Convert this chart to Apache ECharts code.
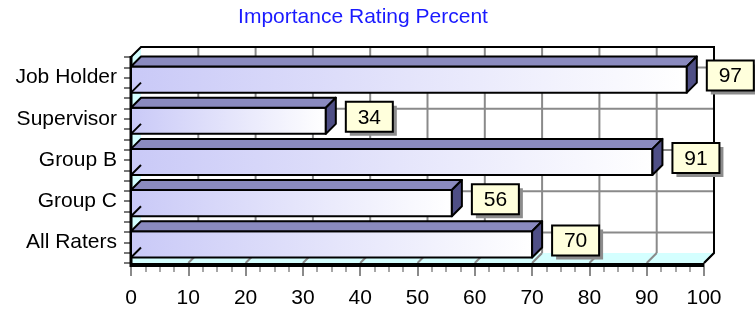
<!DOCTYPE html>
<html>
<head>
<meta charset="utf-8">
<script src="https://cdn.jsdelivr.net/npm/echarts@6/dist/echarts.min.js"></script>
<style>
  html, body { margin: 0; padding: 0; background: #fff; }
  #chart { width: 755px; height: 313px; }
</style>
</head>
<body>
<div id="chart"></div>
<script>
// data
let categories = ["Job Holder", "Supervisor", "Group B", "Group C", "All Raters"];
let ratings = [97, 34, 91, 56, 70];
let xTicks = [0, 10, 20, 30, 40, 50, 60, 70, 80, 90, 100];

const DEPTH = 10;
const FONT = "Liberation Sans, Arial, sans-serif";

let myChart = echarts.init(document.getElementById("chart"));

// walls, floor and grid lines of the fake 3d box
function renderBox (params, api) {
  let cs = params.coordSys;
  let x0 = cs.x, x1 = cs.x + cs.width, t = cs.y, b = cs.y + cs.height;
  let d = DEPTH;
  let kids = [];
  let grey = { stroke: "#8a8a8a", lineWidth: 2 };

  kids.push({ type: "rect", shape: { x: x0 + d, y: t - d, width: x1 - x0, height: b - t }, style: { fill: "#fff" } });
  kids.push({ type: "polygon", shape: { points: [[x0, t], [x0 + d, t - d], [x0 + d, b - d], [x0, b]] }, style: { fill: "#d4ffff" } });
  kids.push({ type: "polygon", shape: { points: [[x0, b], [x1, b], [x1 + d, b - d], [x0 + d, b - d]] }, style: { fill: "#d4ffff" } });

  xTicks.forEach((v) => {
    let x = api.coord([v, 0])[0];
    if (v > 0 && v < 100) {
      kids.push({ type: "line", shape: { x1: x + d, y1: t - d, x2: x + d, y2: b - d }, style: grey });
    }
    if (v > 0) {
      kids.push({ type: "line", shape: { x1: x, y1: b, x2: x + d, y2: b - d }, style: grey });
    }
  });
  categories.forEach((c, i) => {
    let y = api.coord([0, i])[1];
    kids.push({ type: "line", shape: { x1: x0 + d, y1: y - d, x2: x1 + d, y2: y - d }, style: grey });
  });

  let black = { stroke: "#000", lineWidth: 2, fill: null };
  kids.push({ type: "polyline", shape: { points: [[x0, t], [x0 + d, t - d], [x1 + d, t - d], [x1 + d, b - d], [x1, b]] }, style: black });
  kids.push({ type: "line", shape: { x1: x0, y1: t - 1, x2: x0, y2: b + 4 }, style: { stroke: "#000", lineWidth: 3 } });
  kids.push({ type: "line", shape: { x1: x0, y1: b + 2, x2: x1, y2: b + 2 }, style: { stroke: "#000", lineWidth: 4 } });

  return { type: "group", children: kids };
}

function renderBar (params, api) {
  let i = api.value(1);
  let start = api.coord([0, i]);
  let end = api.coord([api.value(0), i]);
  let band = api.size([0, 1])[1];
  let d = DEPTH;
  let x0 = start[0], x1 = end[0];
  let top = start[1] - band * 0.27;
  let bot = start[1] + band * 0.365;
  let line = { stroke: "#000", lineWidth: 2, lineJoin: "round" };

  return {
    type: "group",
    children: [
      {
        type: "rect",
        shape: { x: x0, y: top, width: x1 - x0, height: bot - top },
        style: Object.assign({
          fill: new echarts.graphic.LinearGradient(0, 0, 1, 0, [
            { offset: 0, color: "#c9c9f7" },
            { offset: 1, color: "#ffffff" }
          ])
        }, line)
      },
      {
        type: "polygon",
        shape: { points: [[x0, top], [x1, top], [x1 + d, top - d], [x0 + d, top - d]] },
        style: Object.assign({ fill: "#8a8abf" }, line)
      },
      {
        type: "polygon",
        shape: { points: [[x1, top], [x1 + d, top - d], [x1 + d, bot - d], [x1, bot]] },
        style: Object.assign({ fill: "#4f4f86" }, line)
      },
      {
        type: "line",
        shape: { x1: x0, y1: bot, x2: x0 + d, y2: bot - d },
        style: line
      }
    ]
  };
}

function renderLabel (params, api) {
  let i = api.value(1);
  let end = api.coord([api.value(0), i]);
  let x = end[0] + 20, y = end[1] - 17;
  let w = 47, h = 30;
  return {
    type: "group",
    children: [
      { type: "rect", shape: { x: x + 4, y: y + 4, width: w, height: h }, style: { fill: "#8c8c8c" } },
      { type: "rect", shape: { x: x, y: y, width: w, height: h }, style: { fill: "#ffffdc", stroke: "#000", lineWidth: 2 } },
      {
        type: "text",
        x: x + w / 2,
        y: y + h / 2 + 1,
        style: { text: String(api.value(0)), fill: "#000", font: "21px " + FONT, align: "center", verticalAlign: "middle" }
      }
    ]
  };
}

let barData = ratings.map((v, i) => [v, i]);

myChart.setOption({
  animation: false,
  title: {
    text: "Importance Rating Percent",
    left: 358,
    top: 2,
    textAlign: "center",
    textStyle: { color: "#1a1aff", fontSize: 21, fontWeight: "normal", fontFamily: FONT }
  },
  grid: {
    left: 131,
    right: 51,
    top: 57,
    bottom: 50
  },
  xAxis: {
    type: "value",
    min: 0,
    max: 100,
    interval: 10,
    axisLine: { show: false },
    axisTick: { show: true, length: 13, lineStyle: { color: "#8a8a8a", width: 2 } },
    minorTick: { show: true, splitNumber: 4, length: 9, lineStyle: { color: "#8a8a8a", width: 1.5 } },
    splitLine: { show: false },
    axisLabel: { color: "#000", fontSize: 21, fontFamily: FONT, margin: 25 }
  },
  yAxis: [
    {
      type: "category",
      data: categories,
      inverse: true,
      axisLine: { show: false },
      axisTick: { show: false },
      axisLabel: { color: "#000", fontSize: 21, fontFamily: FONT, margin: 14 }
    },
    {
      type: "value",
      min: 0,
      max: 20,
      interval: 1,
      position: "left",
      axisLine: { show: false },
      axisTick: { show: true, length: 7, lineStyle: { color: "#777", width: 2 } },
      axisLabel: { show: false },
      splitLine: { show: false }
    }
  ],
  series: [
    {
      type: "custom",
      name: "box",
      clip: false,
      z: 1,
      renderItem: renderBox,
      data: [[0, 0]],
      silent: true
    },
    {
      type: "custom",
      name: "bars",
      clip: false,
      z: 2,
      renderItem: renderBar,
      encode: { x: 0, y: 1 },
      data: barData
    },
    {
      type: "custom",
      name: "labels",
      clip: false,
      z: 3,
      renderItem: renderLabel,
      encode: { x: 0, y: 1 },
      data: barData
    }
  ]
});

window.addEventListener("resize", () => {
  myChart.resize();
});
</script>
</body>
</html>
